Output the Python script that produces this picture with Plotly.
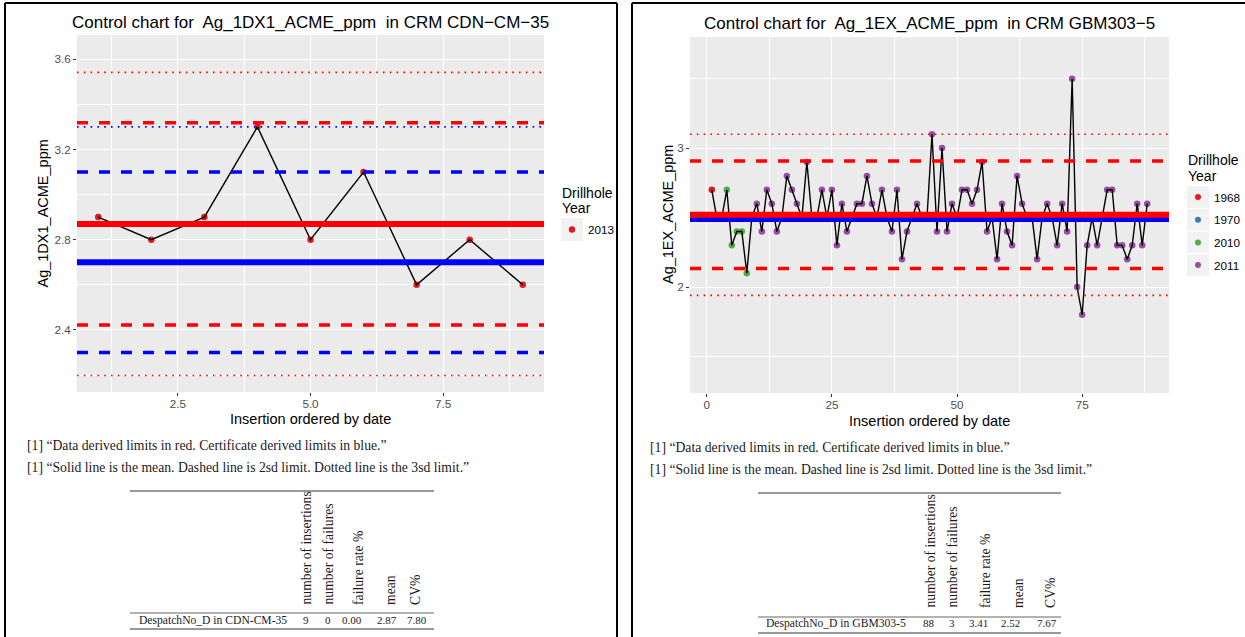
import plotly.graph_objects as go

W, H = 1245, 637

# ---- CRM CDN-CM-35 : Ag_1DX1_ACME_ppm ----
cm35_order = [1, 2, 3, 4, 5, 6, 7, 8, 9]
cm35_ag = [2.9, 2.8, 2.9, 3.3, 2.8, 3.1, 2.6, 2.8, 2.6]
cm35_year = ["2013"] * 9
cm35_cert_mean = 2.7
cm35_cert_sd = 0.2

# ---- CRM GBM303-5 : Ag_1EX_ACME_ppm ----
gbm_ag = [2.7, 2.5, 2.5, 2.7, 2.3, 2.4, 2.4, 2.1, 2.5, 2.6,
          2.4, 2.7, 2.6, 2.4, 2.5, 2.8, 2.7, 2.6, 2.5, 2.9,
          2.5, 2.5, 2.7, 2.5, 2.7, 2.3, 2.6, 2.4, 2.5, 2.6,
          2.6, 2.8, 2.6, 2.5, 2.7, 2.5, 2.4, 2.7, 2.2, 2.4,
          2.5, 2.6, 2.5, 2.5, 3.1, 2.4, 3.0, 2.4, 2.6, 2.5,
          2.7, 2.7, 2.6, 2.7, 2.9, 2.4, 2.5, 2.2, 2.6, 2.4,
          2.3, 2.8, 2.6, 2.5, 2.5, 2.2, 2.5, 2.6, 2.5, 2.3,
          2.6, 2.4, 3.5, 2.0, 1.8, 2.3, 2.5, 2.3, 2.5, 2.7,
          2.7, 2.3, 2.3, 2.2, 2.3, 2.6, 2.3, 2.6]
gbm_order = list(range(1, len(gbm_ag) + 1))
gbm_year = ["1968"] + ["1970"] * 2 + ["2010"] * 5 + ["2011"] * 80
gbm_cert_mean = 2.49

# ---- summary table ----
tbl_crm = ["CDN-CM-35", "GBM303-5"]
tbl_insertions = [9, 88]
tbl_failures = [0, 3]
tbl_fail_rate = [0.00, 3.41]
tbl_mean = [2.87, 2.52]
tbl_cv = [7.80, 7.67]
tbl_headers = ["number of insertions", "number of failures", "failure rate %", "mean", "CV%"]

notes = ["[1] \u201cData derived limits in red. Certificate derived limits in blue.\u201d",
         "[1] \u201cSolid line is the mean. Dashed line is 2sd limit. Dotted line is the 3sd limit.\u201d"]

year_colors = {"1968": "#E41A1C", "1970": "#377EB8", "2010": "#4DAF4A",
               "2011": "#984EA3", "2013": "#E41A1C"}

SANS = "Liberation Sans, Arial, sans-serif"
SERIF = "Liberation Serif, Times New Roman, serif"


def X(px):
    return px / W


def Y(py):
    return 1 - py / H


fig = go.Figure()


def add_series(order, values, years, xa, ya):
    # coloured points per drillhole year, then the black connecting line
    for yr in sorted(set(years)):
        xs = [o for o, y in zip(order, years) if y == yr]
        vs = [v for v, y in zip(values, years) if y == yr]
        fig.add_trace(go.Scatter(x=xs, y=vs, mode="markers", xaxis=xa, yaxis=ya,
                                 marker=dict(color=year_colors[yr], size=6.5),
                                 showlegend=False, hoverinfo="skip"))
    fig.add_trace(go.Scatter(x=order, y=values, mode="lines", xaxis=xa, yaxis=ya,
                             line=dict(color="black", width=1.4),
                             showlegend=False, hoverinfo="skip"))


add_series(cm35_order, cm35_ag, cm35_year, "x", "y")
add_series(gbm_order, gbm_ag, gbm_year, "x2", "y2")

shapes = []


def hline(xa, ya, yv, color, width, dash):
    shapes.append(dict(type="line", xref=xa + " domain", yref=ya, x0=0, x1=1,
                       y0=yv, y1=yv, layer="above",
                       line=dict(color=color, width=width, dash=dash)))


DASH = "11px,11px"
DOT = "1.6px,5.2px"

# left chart limits: certificate (blue) first, data (red) on top
hline("x", "y", cm35_cert_mean, "#0000FF", 6, "solid")
hline("x", "y", cm35_cert_mean + 2 * cm35_cert_sd, "#0000FF", 3.5, DASH)
hline("x", "y", cm35_cert_mean - 2 * cm35_cert_sd, "#0000FF", 3.5, DASH)
hline("x", "y", cm35_cert_mean + 3 * cm35_cert_sd, "#0000FF", 1.6, DOT)
sd0 = tbl_mean[0] * tbl_cv[0] / 100
hline("x", "y", tbl_mean[0], "#FF0000", 6, "solid")
for k, d, w in [(2, DASH, 3.5), (3, DOT, 1.6)]:
    hline("x", "y", tbl_mean[0] + k * sd0, "#FF0000", w, d)
    hline("x", "y", tbl_mean[0] - k * sd0, "#FF0000", w, d)

# right chart limits
hline("x2", "y2", gbm_cert_mean, "#0000FF", 6, "solid")
sd1 = tbl_mean[1] * tbl_cv[1] / 100
hline("x2", "y2", tbl_mean[1], "#FF0000", 6, "solid")
for k, d, w in [(2, DASH, 3.5), (3, DOT, 1.6)]:
    hline("x2", "y2", tbl_mean[1] + k * sd1, "#FF0000", w, d)
    hline("x2", "y2", tbl_mean[1] - k * sd1, "#FF0000", w, d)


def pline(x0, y0, x1, y1, color="black", width=2):
    shapes.append(dict(type="line", xref="paper", yref="paper",
                       x0=X(x0), y0=Y(y0), x1=X(x1), y1=Y(y1),
                       line=dict(color=color, width=width)))


def prect(x0, y0, x1, y1, fill):
    shapes.append(dict(type="rect", xref="paper", yref="paper",
                       x0=X(x0), y0=Y(y0), x1=X(x1), y1=Y(y1),
                       fillcolor=fill, line=dict(width=0), layer="below"))


def pdot(cx, cy, r, color):
    shapes.append(dict(type="circle", xref="paper", yref="paper",
                       x0=X(cx - r), y0=Y(cy + r), x1=X(cx + r), y1=Y(cy - r),
                       fillcolor=color, line=dict(width=0)))


# page frames
pline(5, 3, 617, 3)
pline(5, 3, 5, 640)
pline(617, 3, 617, 640)
pline(632, 3, 1250, 3)
pline(632, 3, 632, 640)

ann = []


def text(x, y, s, size, font=SANS, color="black", xanchor="center",
         yanchor="middle", angle=0):
    ann.append(dict(x=X(x), y=Y(y), xref="paper", yref="paper", text=s,
                    showarrow=False, xanchor=xanchor, yanchor=yanchor,
                    textangle=angle, font=dict(family=font, size=size, color=color)))


# chart titles and axis titles
text(310.5, 22, "Control chart for  Ag_1DX1_ACME_ppm  in CRM CDN\u2212CM\u221235", 17)
text(929.5, 23, "Control chart for  Ag_1EX_ACME_ppm  in CRM GBM303\u22125", 17)
text(310.5, 418.5, "Insertion ordered by date", 14.5)
text(929.5, 420.5, "Insertion ordered by date", 14.5)
text(43, 213.5, "Ag_1DX1_ACME_ppm", 14.5, angle=-90)
text(668, 215, "Ag_1EX_ACME_ppm", 14.5, angle=-90)

# legends
text(560, 193, "Drillhole", 14, xanchor="left")
text(560, 208, "Year", 14, xanchor="left")
prect(561, 218, 583, 241, "#F2F2F2")
pdot(572, 229.5, 3.2, year_colors["2013"])
text(586, 229.5, "2013", 11.7, xanchor="left")

text(1186, 160, "Drillhole", 14, xanchor="left")
text(1186, 176, "Year", 14, xanchor="left")
for i, yr in enumerate(["1968", "1970", "2010", "2011"]):
    cy = 197 + i * 22.7
    prect(1187, cy - 10.8, 1209, cy + 10.8, "#F2F2F2")
    pdot(1198, cy, 3, year_colors[yr])
    text(1212, cy, yr, 11.7, xanchor="left")

# notes under each chart
for (nx, ny0) in [(25, 445), (648, 447)]:
    for j, s in enumerate(notes):
        text(nx, ny0 + j * 22.5, s, 13.7, font=SERIF, color="#1A1A1A", xanchor="left")

# summary tables
tables = [
    dict(x0=130, x1=434, top=491, mid=613, bot=629, hb=607,
         hx=[306, 328, 358, 390, 415], lx=137, ry=620, vx=[306, 328, 352, 387, 417]),
    dict(x0=758, x1=1061, top=493, mid=617, bot=633, hb=610,
         hx=[930, 952, 985, 1018, 1050], lx=764, ry=623, vx=[929, 952, 978, 1010, 1047]),
]
for t, crm, ni, nf, fr, mu, cv in zip(tables, tbl_crm, tbl_insertions, tbl_failures,
                                     tbl_fail_rate, tbl_mean, tbl_cv):
    pline(t["x0"], t["top"], t["x1"], t["top"], "#999999", 2)
    pline(t["x0"], t["mid"], t["x1"], t["mid"], "#666666", 1.2)
    pline(t["x0"], t["bot"], t["x1"], t["bot"], "#999999", 2)
    for hx, h in zip(t["hx"], tbl_headers):
        text(hx, t["hb"], h, 13.7, font=SERIF, color="#1A1A1A", yanchor="bottom", angle=-90)
    text(t["lx"], t["ry"], "DespatchNo_D in " + crm, 11.6, font=SERIF, color="#1A1A1A",
         xanchor="left")
    vals = [str(ni), str(nf), f"{fr:.2f}", f"{mu:.2f}", f"{cv:.2f}"]
    for vx, v in zip(t["vx"], vals):
        text(vx, t["ry"], v, 11, font=SERIF, color="#1A1A1A")

axis_common = dict(showline=False, zeroline=False, ticks="outside", ticklen=3,
                   tickwidth=1, tickcolor="#333333", gridcolor="white", gridwidth=1.1,
                   tickfont=dict(family=SANS, size=11.7, color="#4D4D4D"))

fig.update_layout(
    width=W, height=H, margin=dict(l=0, r=0, t=0, b=0),
    paper_bgcolor="white", plot_bgcolor="#EBEBEB", showlegend=False,
    xaxis=dict(domain=[X(77), X(544)], range=[0.6, 9.4], anchor="y",
               tick0=0, dtick=2.5, tickformat=".1f", ticklabelstandoff=-2,
               minor=dict(dtick=1.25, tick0=0, showgrid=True, gridcolor="white",
                          gridwidth=0.55, ticks=""), **axis_common),
    yaxis=dict(domain=[Y(392), Y(35)], range=[2.125, 3.707], anchor="x",
               tick0=0, dtick=0.4, tickformat=".1f",
               minor=dict(dtick=0.2, tick0=0, showgrid=True, gridcolor="white",
                          gridwidth=0.55, ticks=""), **axis_common),
    xaxis2=dict(domain=[X(690), X(1169)], range=[-3.35, 92.35], anchor="y2",
                tick0=0, dtick=25, ticklabelstandoff=-2,
                minor=dict(dtick=12.5, tick0=0, showgrid=True, gridcolor="white",
                           gridwidth=0.55, ticks=""), **axis_common),
    yaxis2=dict(domain=[Y(393), Y(37)], range=[1.237, 3.80], anchor="x2",
                tick0=0, dtick=1,
                minor=dict(dtick=0.5, tick0=0, showgrid=True, gridcolor="white",
                           gridwidth=0.55, ticks=""), **axis_common),
    shapes=shapes, annotations=ann,
)

fig.write_html("out.html", config={"displayModeBar": False})
